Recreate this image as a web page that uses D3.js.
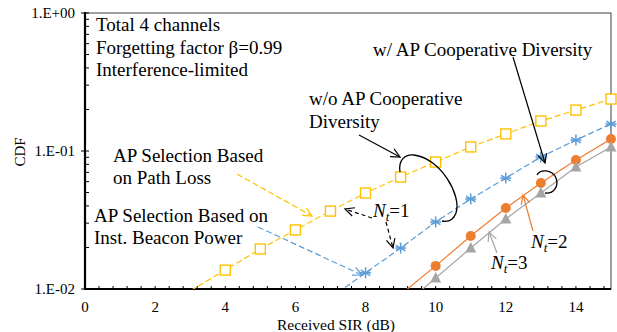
<!DOCTYPE html>
<html>
<head>
<meta charset="utf-8">
<script src="https://cdn.jsdelivr.net/npm/d3@7/dist/d3.min.js"></script>
<style>
  body { margin: 0; background: #fff; }
  svg text { font-family: 'Liberation Serif', 'Times New Roman', serif; fill: #000; }
  .note { font-size: 19px; }
  .tick-label { font-size: 15px; }
</style>
</head>
<body>
<div id="wrapper"></div>
<script>
// data
const pathLossSir = [3, 4, 5, 6, 7, 8, 9, 10, 11, 12, 13, 14, 15];
const pathLossCdf = [0.0097, 0.0137, 0.0195, 0.0268, 0.0367, 0.0496, 0.0648, 0.0832, 0.107, 0.133, 0.165, 0.198, 0.238];

const beaconSir = [7, 8, 9, 10, 11, 12, 13, 14, 15];
const beaconCdf = [0.0086, 0.0131, 0.0198, 0.0306, 0.0449, 0.0637, 0.0905, 0.12, 0.157];

const coopSir = [9, 10, 11, 12, 13, 14, 15];
const coopNt2Cdf = [0.0091, 0.0147, 0.0242, 0.0386, 0.0587, 0.0861, 0.122];
const coopNt3Cdf = [0.0073, 0.012, 0.0198, 0.0322, 0.0496, 0.0766, 0.107];

const xTicks = [0, 2, 4, 6, 8, 10, 12, 14];
const yTicks = [1, 0.1, 0.01];
const yTickLabels = ["1.E+00", "1.E-01", "1.E-02"];

// dimensions
const width = 617;
const height = 332;
const margin = { top: 13, right: 6, bottom: 43, left: 85 };
const boundedWidth = width - margin.left - margin.right;
const boundedHeight = height - margin.top - margin.bottom;

const svg = d3.select("#wrapper")
  .append("svg")
  .attr("width", width)
  .attr("height", height);

const x = d3.scaleLinear().domain([0, 15]).range([margin.left, margin.left + boundedWidth]);
const y = d3.scaleLog().domain([0.01, 1]).range([margin.top + boundedHeight, margin.top]);

svg.append("defs").append("clipPath").attr("id", "plot-clip")
  .append("rect")
  .attr("x", margin.left).attr("y", margin.top)
  .attr("width", boundedWidth).attr("height", boundedHeight);

// plot border (thin top / right)
svg.append("rect")
  .attr("x", margin.left).attr("y", margin.top)
  .attr("width", boundedWidth).attr("height", boundedHeight)
  .attr("fill", "none").attr("stroke", "#404040").attr("stroke-width", 1);

// minor ticks
const xMinor = d3.range(0.4, 15, 0.4);
svg.append("g").selectAll("line").data(xMinor).join("line")
  .attr("x1", d => x(d)).attr("x2", d => x(d))
  .attr("y1", y(0.01)).attr("y2", y(0.01) - 3)
  .attr("stroke", "#000");

const yMinor = [];
[0.01, 0.1].forEach(base => d3.range(2, 10).forEach(k => yMinor.push(base * k)));
svg.append("g").selectAll("line").data(yMinor).join("line")
  .attr("x1", x(0)).attr("x2", x(0) + 4)
  .attr("y1", d => y(d)).attr("y2", d => y(d))
  .attr("stroke", "#000");

// major ticks on y
svg.append("g").selectAll("line").data(yTicks).join("line")
  .attr("x1", x(0) - 4).attr("x2", x(0) + 4)
  .attr("y1", d => y(d)).attr("y2", d => y(d))
  .attr("stroke", "#000");

// thick axis lines
svg.append("line")
  .attr("x1", x(0)).attr("x2", x(15)).attr("y1", y(0.01)).attr("y2", y(0.01))
  .attr("stroke", "#000").attr("stroke-width", 2.2);
svg.append("line")
  .attr("x1", x(0)).attr("x2", x(0)).attr("y1", y(1) - 1).attr("y2", y(0.01) + 1)
  .attr("stroke", "#000").attr("stroke-width", 2.2);

// tick labels
svg.append("g").selectAll("text").data(xTicks).join("text")
  .attr("class", "tick-label")
  .attr("x", d => x(d)).attr("y", y(0.01) + 23)
  .attr("text-anchor", "middle")
  .text(d => d);

svg.append("g").selectAll("text").data(yTicks).join("text")
  .attr("class", "tick-label")
  .attr("x", x(0) - 10).attr("y", d => y(d) + 5)
  .attr("text-anchor", "end")
  .text((d, i) => yTickLabels[i]);

svg.append("text")
  .attr("class", "tick-label")
  .attr("x", 336).attr("y", 329.5)
  .attr("text-anchor", "middle")
  .style("font-size", "15.5px")
  .text("Received SIR (dB)");

svg.append("text")
  .attr("class", "tick-label")
  .attr("transform", "translate(25,152) rotate(-90)")
  .attr("text-anchor", "middle")
  .style("font-size", "15px")
  .text("CDF");

// series
const series = [
  { sir: pathLossSir, cdf: pathLossCdf, color: "#FFC000", dash: "6,3", marker: "square" },
  { sir: beaconSir, cdf: beaconCdf, color: "#5B9BD5", dash: "6,3", marker: "star" },
  { sir: coopSir, cdf: coopNt2Cdf, color: "#ED7D31", dash: null, marker: "circle" },
  { sir: coopSir, cdf: coopNt3Cdf, color: "#A5A5A5", dash: null, marker: "triangle" },
];

const lineGen = d3.line().x(d => x(d[0])).y(d => y(d[1]));
const plotGroup = svg.append("g").attr("clip-path", "url(#plot-clip)");

series.forEach(s => {
  const pts = s.sir.map((v, i) => [v, s.cdf[i]]);
  plotGroup.append("path")
    .attr("d", lineGen(pts))
    .attr("fill", "none")
    .attr("stroke", s.color)
    .attr("stroke-width", 1.2)
    .attr("stroke-dasharray", s.dash);
});

series.forEach(s => {
  const pts = s.sir.map((v, i) => [v, s.cdf[i]]).filter(d => d[1] >= 0.01);
  const g = svg.append("g");
  pts.forEach(([sx, sy]) => {
    const cx = x(sx), cy = y(sy);
    if (s.marker === "square") {
      g.append("rect")
        .attr("x", cx - 5).attr("y", cy - 5).attr("width", 10).attr("height", 10)
        .attr("fill", "#fff").attr("stroke", s.color).attr("stroke-width", 1.4);
    } else if (s.marker === "star") {
      const r = 5.5;
      [0, 60, 120].forEach(a => {
        const rad = (a + 90) * Math.PI / 180;
        g.append("line")
          .attr("x1", cx - r * Math.cos(rad)).attr("y1", cy - r * Math.sin(rad))
          .attr("x2", cx + r * Math.cos(rad)).attr("y2", cy + r * Math.sin(rad))
          .attr("stroke", s.color).attr("stroke-width", 1.5);
      });
      g.append("line")
        .attr("x1", cx - r).attr("x2", cx + r).attr("y1", cy).attr("y2", cy)
        .attr("stroke", s.color).attr("stroke-width", 1.5);
    } else if (s.marker === "circle") {
      g.append("circle").attr("cx", cx).attr("cy", cy).attr("r", 5).attr("fill", s.color);
    } else {
      g.append("path")
        .attr("d", `M${cx},${cy - 6}L${cx + 5.5},${cy + 4.5}L${cx - 5.5},${cy + 4.5}Z`)
        .attr("fill", s.color);
    }
  });
});

// annotations
const notes = svg.append("g");
function note(tx, ty, str) {
  notes.append("text").attr("class", "note").attr("x", tx).attr("y", ty).text(str);
}
note(96, 31, "Total 4 channels");
note(96, 54, "Forgetting factor \u03B2=0.99");
note(96, 76, "Interference-limited");
note(373, 56, "w/ AP Cooperative Diversity");
note(309, 105, "w/o AP Cooperative");
note(309, 128, "Diversity");
note(113, 162, "AP Selection Based");
note(113, 184, "on Path Loss");
note(94, 222, "AP Selection Based on");
note(94, 244, "Inst. Beacon Power");

function ntLabel(tx, ty, n) {
  const t = notes.append("text").attr("class", "note").attr("x", tx).attr("y", ty);
  t.append("tspan").style("font-style", "italic").text("N");
  t.append("tspan").style("font-style", "italic").style("font-size", "13px").attr("dy", 4).text("t");
  t.append("tspan").attr("dy", -4).text("=" + n);
}
ntLabel(373, 217, 1);
ntLabel(531, 248, 2);
ntLabel(491, 269, 3);

function arrow(x1, y1, x2, y2, color, dash) {
  notes.append("line")
    .attr("x1", x1).attr("y1", y1).attr("x2", x2).attr("y2", y2)
    .attr("stroke", color).attr("stroke-width", 1.2)
    .attr("stroke-dasharray", dash);
  const ang = Math.atan2(y2 - y1, x2 - x1);
  const len = 10, spread = 0.45;
  const p = [ang + Math.PI - spread, ang + Math.PI + spread].map(a => [x2 + len * Math.cos(a), y2 + len * Math.sin(a)]);
  notes.append("path")
    .attr("d", `M${p[0][0]},${p[0][1]}L${x2},${y2}L${p[1][0]},${p[1][1]}`)
    .attr("fill", "none").attr("stroke", color).attr("stroke-width", 1.2);
}
arrow(237, 174, 312, 216, "#FFC000", "6,3");
arrow(258, 227, 362, 275, "#5B9BD5", "6,3");
arrow(372, 218, 345, 209, "#000", "4,3");
arrow(386, 222, 393, 248, "#000", "4,3");
arrow(359, 135, 400, 157, "#000", null);
arrow(513, 57, 545, 163, "#000", null);
arrow(533, 231, 523, 195, "#ED7D31", null);
arrow(497, 253, 489, 232, "#A5A5A5", null);

notes.append("path")
  .attr("d", "M400,172 C398,160 405,154 414,155 C440,158 462,195 456,213 C453,221 447,222 442,221")
  .attr("fill", "none").attr("stroke", "#000").attr("stroke-width", 1.3);
notes.append("path")
  .attr("d", "M537,175 C540,169 552,169 556,178 C559,186 554,194 545,193")
  .attr("fill", "none").attr("stroke", "#000").attr("stroke-width", 1.3);
</script>
</body>
</html>
